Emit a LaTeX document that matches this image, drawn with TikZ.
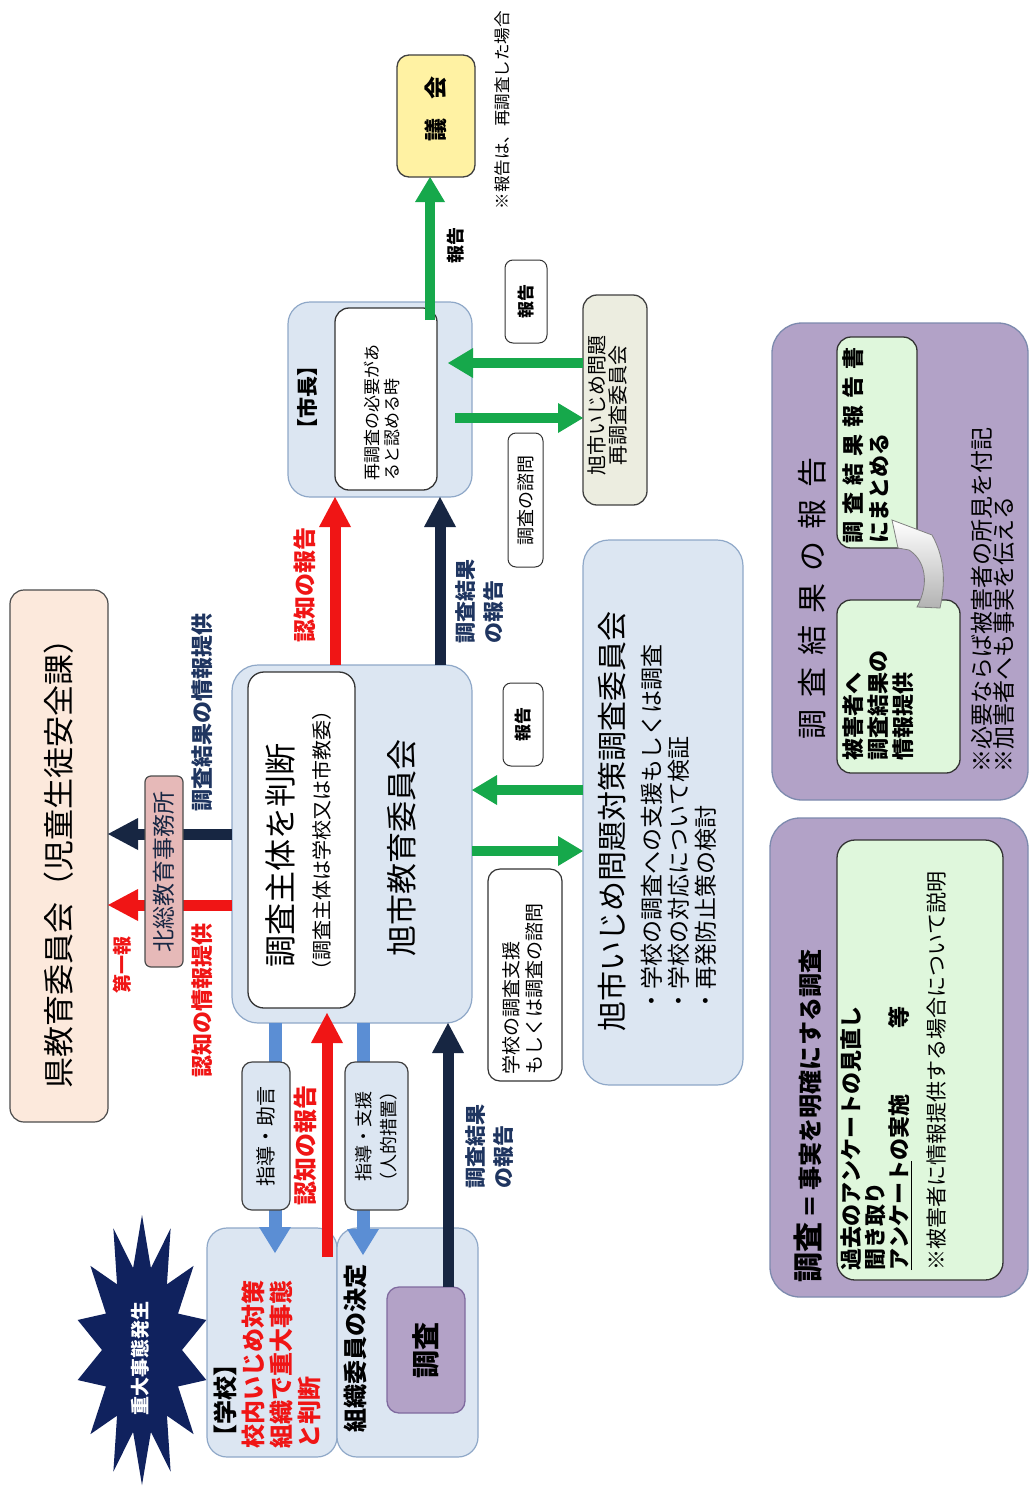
\documentclass[tikz,border=0pt]{standalone}
\usepackage{fontspec}
\setmainfont{Noto Sans CJK JP}
\usetikzlibrary{arrows.meta,calc}
\definecolor{bxblue}{HTML}{DCE6F2}
\definecolor{bxedge}{HTML}{8FA8C8}
\definecolor{kenfill}{HTML}{FCE9DC}
\definecolor{hkfill}{HTML}{E6B9B8}
\definecolor{gkfill}{HTML}{FFF2A3}
\definecolor{scfill}{HTML}{ECEDE0}
\definecolor{pfill}{HTML}{B2A2C7}
\definecolor{pedge}{HTML}{7D8AAE}
\definecolor{chfill}{HTML}{B3A2C7}
\definecolor{chedge}{HTML}{7F6A9F}
\definecolor{lgreen}{HTML}{DFF7DC}
\definecolor{ggreen}{HTML}{16A84B}
\definecolor{jred}{HTML}{F01515}
\definecolor{jnavy}{HTML}{172642}
\definecolor{tnavy}{HTML}{1F3560}
\definecolor{lblue}{HTML}{5B8ED4}
\definecolor{starcol}{HTML}{10225E}
\newcommand\fsz[2]{\fontsize{#1pt}{#2pt}\selectfont}
\newcommand\kn{\kern12pt}
\tikzset{
  boxn/.style={anchor=north west, inner sep=0pt, outer sep=0pt},
  sz/.style 2 args={minimum width=#1pt, minimum height=#2pt},
  bbox/.style={boxn, draw=bxedge, fill=bxblue, line width=1.2pt},
  wbox/.style={boxn, draw=black!80, fill=white, line width=1.3pt},
  rt/.style={rotate=90, inner sep=0pt, outer sep=0pt},
  lt/.style={rt, anchor=north west, align=left},
  garr/.style={draw=ggreen, line width=10pt, -{Triangle[width=30pt,length=25pt,line width=0pt]}},
  narr/.style={draw=jnavy, line width=11pt, -{Triangle[width=32pt,length=30pt,line width=0pt]}},
  rarr/.style={draw=jred, line width=11pt, -{Triangle[width=32pt,length=30pt,line width=0pt]}},
  barr/.style={draw=lblue, line width=13pt, -{Triangle[width=32pt,length=26pt,line width=0pt]}},
}
\begin{document}
\begin{tikzpicture}[x=1pt,y=-1pt]
\fill[white] (0,0) rectangle (1030,1488);
\useasboundingbox (0,0) rectangle (1030,1488);

% ---------- 県教育委員会
\node[boxn, sz={98}{532}, fill=kenfill, draw=black!70, line width=1.2pt, rounded corners=14pt] (ken) at (10,590) {};
\node[rt, font=\fsz{31}{36}] (kenT) at (59,856) {県教育委員会（児童生徒安全課）};

% ---------- 旭市教育委員会
\node[bbox, sz={240}{358}, rounded corners=26pt] (asahi) at (232,665) {};
\node[wbox, sz={107}{336}, rounded corners=16pt] (asin) at (248,672) {};
\node[rt, font=\fsz{32}{36}] (asinT) at (280,855) {調査主体を判断};
\node[rt, font=\fsz{20}{24}] (asinS) at (322,840) {（調査主体は学校又は市教委）};
\node[rt, font=\fsz{31}{36}] (asahiT) at (402,848) {旭市教育委員会};

% ---------- 市長
\node[bbox, sz={184}{195}, rounded corners=22pt] (shicho) at (288,302) {};
\node[wbox, sz={102}{182}, rounded corners=14pt] (shin) at (335,308) {};
\node[rt, font=\bfseries\fsz{21}{24}] (shichoT) at (307,397) {【市長】};
\node[lt, font=\fsz{17}{20}] (shinT) at (364,480) {再調査の必要があ\\ると認める時};

% ---------- 議会
\node[boxn, sz={78}{122}, fill=gkfill, draw=black!75, line width=1.3pt, rounded corners=12pt] (gikai) at (397,55) {};
\node[rt, font=\bfseries\fsz{23}{26}] (gikaiT) at (436,109) {議\hspace{0.8em}会};
\node[rt, font=\fsz{16.5}{20}] (noteT) at (502,110) {※報告は、再調査した場合};
\node[rt, font=\bfseries\fsz{18}{22}] (lab8) at (456,245) {報告};

% ---------- small boxes
\node[wbox, sz={42}{83}, rounded corners=8pt, line width=1pt] (rep1) at (505,260) {};
\node[rt, font=\bfseries\fsz{17}{20}] (rep1T) at (rep1.center) {報告};
\node[wbox, sz={35}{134}, rounded corners=8pt, line width=1pt] (shimon) at (508,433) {};
\node[rt, font=\fsz{18}{20}] (shimonT) at (shimon.center) {調査の諮問};
\node[wbox, sz={40}{83}, rounded corners=8pt, line width=1pt] (rep2) at (503,683) {};
\node[rt, font=\bfseries\fsz{17}{20}] (rep2T) at (rep2.center) {報告};
\node[wbox, sz={74}{212}, rounded corners=12pt, line width=1.2pt] (sup) at (488,869) {};
\node[lt, font=\fsz{19}{23}] (supT) at (502,1074) {学校の調査支援\\もしくは調査の諮問};

% ---------- 再調査委員会
\node[boxn, sz={64}{210}, fill=scfill, draw=black!75, line width=1.3pt, rounded corners=14pt] (saicho) at (583,295) {};
\node[rt, font=\fsz{20}{21}, align=center] (saichoT) at (607,405) {旭市いじめ問題\\再調査委員会};

% ---------- 対策調査委員会
\node[bbox, sz={160}{545}, rounded corners=26pt] (taisaku) at (583,540) {};
\node[rt, font=\fsz{30}{34}] (taisakuT) at (612,821) {旭市いじめ問題対策調査委員会};
\node[lt, font=\fsz{23}{27}] (taisakuL) at (641,1012) {・学校の調査への支援もしくは調査\\・学校の対応について検証\\・再発防止策の検討};

% ---------- labels
\node[lt, font=\bfseries\fsz{21}{28}, text=tnavy] (lab1) at (456,643) {調査結果\\の報告};
\node[lt, font=\bfseries\fsz{21}{28}, text=tnavy] (lab2) at (466,1188) {調査結果\\の報告};
\node[rt, font=\bfseries\fsz{22}{26}, text=tnavy] (lab3) at (202,712) {調査結果の情報提供};
\node[rt, font=\bfseries\fsz{19}{22}, text=jred] (lab4) at (122,965) {第一報};
\node[rt, font=\bfseries\fsz{22}{26}, text=jred] (lab5) at (202,1000) {認知の情報提供};
\node[rt, font=\bfseries\fsz{23}{26}, text=jred] (lab6) at (305,585) {認知の報告};
\node[rt, font=\bfseries\fsz{24}{28}, text=jred] (lab7) at (305,1145) {認知の報告};

% ---------- 学校 / 組織
\node[bbox, sz={130}{229}, rounded corners=20pt] (gakko) at (207,1228) {};
\node[bbox, sz={141}{229}, rounded corners=20pt] (soshiki) at (337,1228) {};
\node[lt, font=\bfseries\fsz{24}{28}] (gakkoT) at (214,1448) {【学校】\\{\color{jred}校内いじめ対策}\\{\color{jred}組織で重大事態}\\{\color{jred}と判断}};
\node[rt, anchor=west, font=\bfseries\fsz{24}{28}] (soshikiT) at (355,1432) {組織委員の決定};
\node[boxn, sz={78}{126}, fill=chfill, draw=chedge, line width=1.3pt, rounded corners=12pt] (chosa) at (387,1287) {};
\node[rt, font=\bfseries\fsz{28}{32}] (chosaT) at (chosa.center) {調査};

% ---------- star
\fill[starcol] plot[samples at={0,1,...,27}, variable=\k] ({142+ifthenelse(mod(\k,2)==0,66,40)*cos(\k*360/28+90)}, {1350+ifthenelse(mod(\k,2)==0,135,84)*sin(\k*360/28+90)}) -- cycle;
\node[rt, font=\bfseries\fsz{19}{22}, text=white] (star) at (140,1358) {重大事態発生};

% ---------- arrows
\draw[garr] ($(shin.north -| gikai.south)+(-6,12)$) -- ($(gikai.south)+(-6,0)$);
\draw[garr] (saicho.west |- 0,363) -- ($(shin.east |- 0,363)+(11,0)$);
\draw[garr] ($(shin.east |- 0,418)+(18,0)$) -- (saicho.west |- 0,418);
\draw[garr] (taisaku.west |- 0,790) -- (asahi.east |- 0,790);
\draw[garr] (asahi.east |- 0,851) -- (taisaku.west |- 0,851);
\draw[narr] (asahi.west |- 0,834) -- (ken.east |- 0,834);
\draw[rarr] (asahi.west |- 0,905) -- (ken.east |- 0,905);
\draw[narr] (asahi.north -| 440,0) -- (shicho.south -| 440,0);
\draw[rarr] (asahi.north -| 335,0) -- (shicho.south -| 335,0);
\draw[narr] (chosa.north -| 448,0) -- (asahi.south -| 448,0);
\draw[rarr] ($(gakko.north -| 327,0)+(0,29)$) -- ($(asahi.south -| 327,0)+(0,-10)$);
\draw[barr] (asahi.south -| 275,0) -- ($(gakko.north -| 275,0)+(0,25)$);
\draw[barr] (asahi.south -| 363,0) -- ($(soshiki.north -| 363,0)+(0,27)$);

% ---------- boxes over arrows
\node[boxn, sz={38}{191}, fill=hkfill, draw=black!70, line width=1.2pt, rounded corners=6pt] (hokuso) at (145,776) {};
\node[rt, font=\fsz{23}{26}, text=jnavy] (hokusoT) at (hokuso.center) {北総教育事務所};
\node[boxn, sz={48}{148}, fill=bxblue, draw=black!75, line width=1.2pt, rounded corners=10pt] (shido1) at (242,1062) {};
\node[rt, font=\fsz{20}{24}] (shido1T) at (shido1.center) {指導・助言};
\node[boxn, sz={63}{148}, fill=bxblue, draw=black!75, line width=1.2pt, rounded corners=10pt] (shido2) at (345,1062) {};
\node[rt, font=\fsz{18}{25}, align=center] (shido2T) at (shido2.center) {指導・支援\\（人的措置）};

% ---------- 調査結果の報告 (right)
\node[boxn, sz={256}{477}, fill=pfill, draw=pedge, line width=1.3pt, rounded corners=30pt] (pb1) at (772,323) {};
\node[rt, font=\fsz{30}{34}] (pb1T) at (812,598) {調\kn 査\kn 結\kn 果\kn の\kn 報\kn 告};
\node[boxn, sz={123}{173}, fill=lgreen, draw=black!80, line width=1.3pt, rounded corners=14pt] (g1) at (837,600) {};
\node[lt, font=\bfseries\fsz{22}{25}] (g1T) at (843,760) {被害者へ\\調査結果の\\情報提供};
\node[boxn, sz={80}{211}, fill=lgreen, draw=black!80, line width=1.3pt, rounded corners=14pt] (g2) at (837,337) {};
\node[lt, font=\bfseries\fsz{22}{26}] (g2T) at (843,543) {調\kern7pt 査\kern7pt 結\kern7pt 果\kern7pt 報\kern7pt 告\kern7pt 書\\にまとめる};
\shade[top color=white, bottom color=black!30, draw=black!50, line width=0.8pt] (940,608) .. controls (945,585) and (946,560) .. (932,535) -- (892,520) -- (898,548) -- (909,550) .. controls (925,560) and (930,583) .. (917,607) -- cycle;
\node[lt, font=\fsz{23}{21}] (pb1N) at (971,772) {※必要ならば被害者の所見を付記\\※加害者へも事実を伝える};

% ---------- 調査 = 事実を明確にする調査
\node[boxn, sz={258}{479}, fill=pfill, draw=pedge, line width=1.3pt, rounded corners=30pt] (pb2) at (770,818) {};
\node[rt, anchor=west, font=\bfseries] (pb2T) at (808,1282) {{\fsz{30}{34}調査}\hspace{4pt}{\fsz{24}{28}＝\hspace{4pt}事実を明確にする調査}};
\node[boxn, sz={166}{440}, fill=lgreen, draw=black!80, line width=1.3pt, rounded corners=18pt] (g3) at (837,840) {};
\node[lt, font=\bfseries\fsz{22}{24}] (g3T) at (841,1270) {過去のアンケートの見直し\\聞き取り\\\underline{アンケート}の実施\hspace{3em}等};
\node[rt, anchor=west, font=\fsz{21}{24}] (g3N) at (937,1270) {※被害者に情報提供する場合について説明};
\end{tikzpicture}
\end{document}
